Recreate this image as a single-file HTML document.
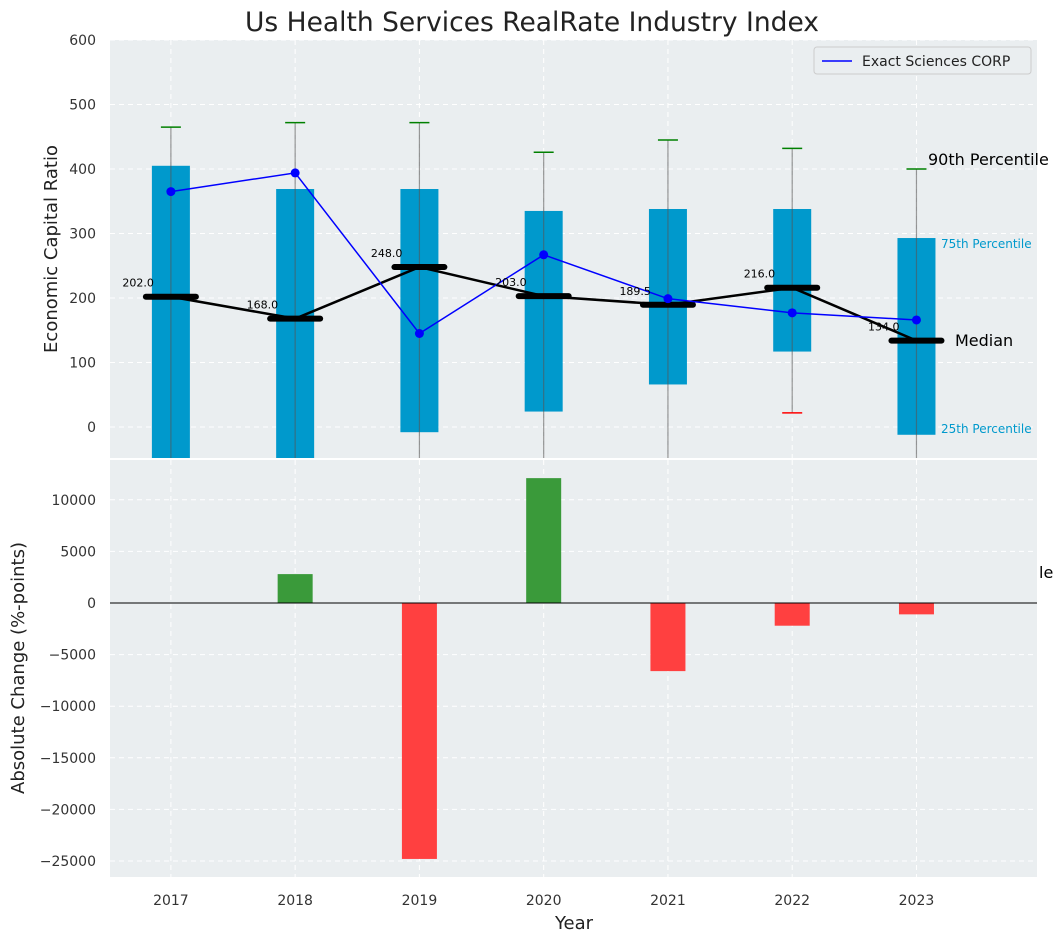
<!DOCTYPE html>
<html><head><meta charset="utf-8"><style>
body{margin:0;background:#fff;font-family:"Liberation Sans","DejaVu Sans",sans-serif;}
svg text{font-family:"DejaVu Sans","Liberation Sans",sans-serif;}
</style></head><body>
<svg id="chart" width="1063" height="942" xmlns="http://www.w3.org/2000/svg">
<text x="532" y="31" font-size="26.5" text-anchor="middle" fill="#222">Us Health Services RealRate Industry Index</text>
<rect x="110" y="40" width="927" height="418" fill="#eaeef0"/>
<rect x="110" y="460" width="927" height="417" fill="#eaeef0"/>
<g id="topG"></g><g id="botG"></g>
<text x="57" y="249" font-size="18" text-anchor="middle" fill="#222" transform="rotate(-90 57 249)">Economic Capital Ratio</text>
<text x="24" y="668" font-size="18" text-anchor="middle" fill="#222" transform="rotate(-90 24 668)">Absolute Change (%-points)</text>
<text x="574" y="929" font-size="18" text-anchor="middle" fill="#222">Year</text>
<g>
<rect x="814" y="47" width="217" height="27" fill="#eaeef0" stroke="#ccc" rx="3"/>
<line x1="822" y1="61" x2="852" y2="61" stroke="#0000ff" stroke-width="1.5"/>
<text x="862" y="66" font-size="14" fill="#222">Exact Sciences CORP</text>
</g>
<g id="overlay"></g>
<text x="928" y="165" font-size="16" fill="#000">90th Percentile</text>
<text x="941" y="248" font-size="12" fill="#0099cc">75th Percentile</text>
<text x="941" y="433" font-size="12" fill="#0099cc">25th Percentile</text>
<text x="955" y="346" font-size="16" fill="#000">Median</text>
<text x="1039" y="578" font-size="16" fill="#000">le</text>
</svg>
<script>
const years=[2017,2018,2019,2020,2021,2022,2023];
const p25=[-120,-120,-8,24,66,117,-12];
const p75=[405,369,369,335,338,338,293];
const p90=[465,472,472,426,445,432,400];
const p10=[-200,-200,-200,-200,-200,22,-200];
const medians=[202,168,248,203,189.5,216,134];
const exact=[365,394,145,267,199,177,166];
const changes=[0,2800,-24800,12100,-6600,-2200,-1100];
const topTicks=[0,100,200,300,400,500,600];
const botTicks=[-25000,-20000,-15000,-10000,-5000,0,5000,10000];
const NS="http://www.w3.org/2000/svg";
const X=v=>110+(v-2016.51)/(2023.97-2016.51)*927;
const YT=v=>458-(v+48)/(648)*418;
const YB=v=>460+(13857-v)/(13857+26550)*417;
function mk(p,t,a){const e=document.createElementNS(NS,t);for(const k in a)e.setAttribute(k,a[k]);p.appendChild(e);return e;}
const topG=document.getElementById('topG'),botG=document.getElementById('botG');
const svg=document.getElementById('chart');
years.forEach(y=>{
 let g=mk(topG,'line',{x1:X(y),x2:X(y),y1:40,y2:458,stroke:'#fff','stroke-dasharray':'5,4','stroke-width':1});
 
 g=mk(botG,'line',{x1:X(y),x2:X(y),y1:460,y2:877,stroke:'#fff','stroke-dasharray':'5,4','stroke-width':1});
 
 const t=mk(svg,'text',{x:X(y),y:905,'font-size':14,'text-anchor':'middle',fill:'#333'});t.textContent=y;
 
});
topTicks.forEach(v=>{
 const g=mk(topG,'line',{x1:110,x2:1037,y1:YT(v),y2:YT(v),stroke:'#fff','stroke-dasharray':'5,4'});
 
 const t=mk(svg,'text',{x:96,y:YT(v)+5,'font-size':14,'text-anchor':'end',fill:'#333'});t.textContent=v;
 
});
botTicks.forEach(v=>{
 const g=mk(botG,'line',{x1:110,x2:1037,y1:YB(v),y2:YB(v),stroke:'#fff','stroke-dasharray':'5,4'});
 
 const t=mk(svg,'text',{x:96,y:YB(v)+5,'font-size':14,'text-anchor':'end',fill:'#333'});t.textContent=v<0?'\u2212'+(-v):v;
 
});
const defs=mk(svg,'defs',{});const cp=mk(defs,'clipPath',{id:'ct'});mk(cp,'rect',{x:110,y:40,width:927,height:418});
const tc=mk(topG,'g',{'clip-path':'url(#ct)'});
years.forEach((y,i)=>{
 const x=X(y);
 let b=mk(tc,'rect',{x:x-19,y:YT(p75[i]),width:38,height:YT(p25[i])-YT(p75[i]),fill:'#0099cc'});
 
 let w=mk(tc,'line',{x1:x,x2:x,y1:YT(p90[i]),y2:YT(p10[i]),stroke:'#555','stroke-opacity':0.6,'stroke-width':1.2});
 
 let c=mk(tc,'line',{x1:x-10,x2:x+10,y1:YT(p90[i]),y2:YT(p90[i]),stroke:'green','stroke-width':1.5});
 
 c=mk(tc,'line',{x1:x-10,x2:x+10,y1:YT(p10[i]),y2:YT(p10[i]),stroke:'red','stroke-width':1.5});
 
});
let ml=mk(tc,'polyline',{points:years.map((y,i)=>X(y)+','+YT(medians[i])).join(' '),fill:'none',stroke:'#000','stroke-width':2.5});

years.forEach((y,i)=>{
 const x=X(y);
 let m=mk(tc,'line',{x1:x-25,x2:x+25,y1:YT(medians[i]),y2:YT(medians[i]),stroke:'#000','stroke-width':6,'stroke-linecap':'round'});
 
 const t=mk(svg,'text',{x:x-17,y:YT(medians[i])-10,'font-size':11,'text-anchor':'end',fill:'#000'});t.textContent=medians[i].toFixed(1);
 
});
let el=mk(tc,'polyline',{points:years.map((y,i)=>X(y)+','+YT(exact[i])).join(' '),fill:'none',stroke:'#0000ff','stroke-width':1.5});

years.forEach((y,i)=>{
 const p=mk(tc,'circle',{cx:X(y),cy:YT(exact[i]),r:4.5,fill:'#0000ff'});
 
});
years.forEach((y,i)=>{
 const v=changes[i];if(v===0)return;
 const r=mk(botG,'rect',{x:X(y)-17.5,y:Math.min(YB(v),YB(0)),width:35,height:Math.abs(YB(v)-YB(0)),fill:v>0?'#3a9a3a':'#ff4040'});
 
});
let z=mk(botG,'line',{x1:110,x2:1037,y1:YB(0),y2:YB(0),stroke:'#000','stroke-width':1});

</script>
</body></html>
